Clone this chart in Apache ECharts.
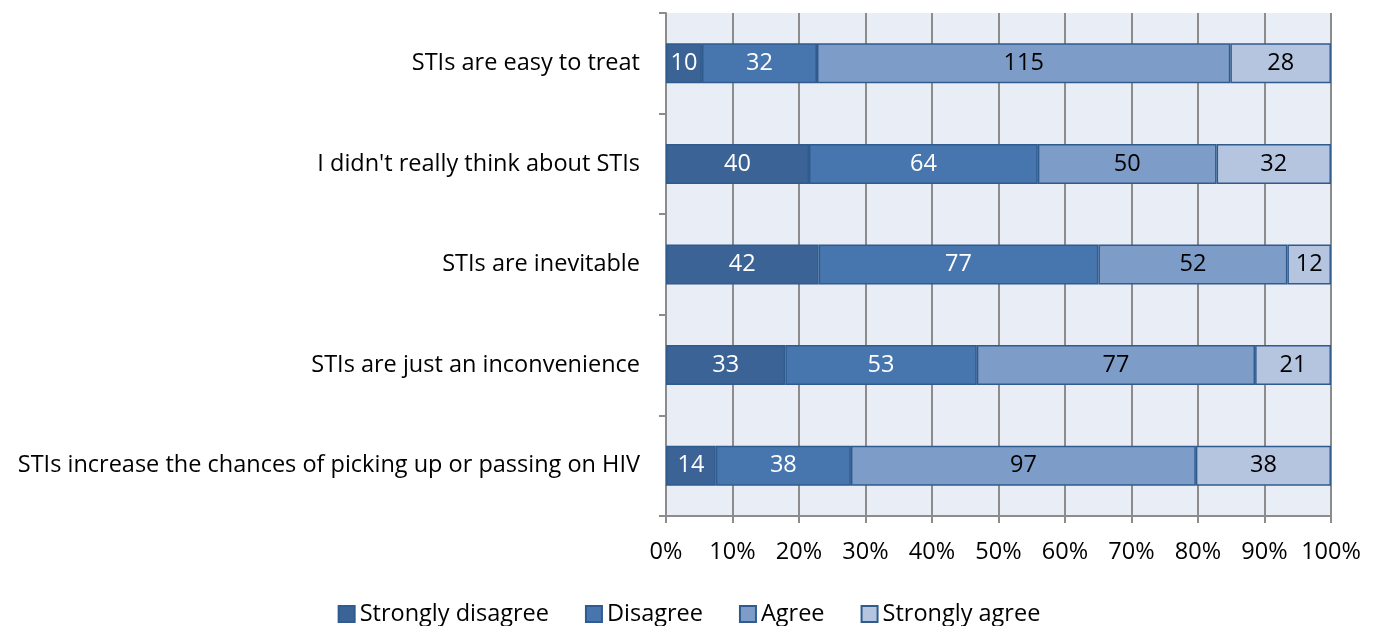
<!DOCTYPE html>
<html>
<head>
<meta charset="utf-8">
<script src="https://cdn.jsdelivr.net/npm/echarts@6/dist/echarts.min.js"></script>
<style>
  html, body { margin: 0; padding: 0; background: #fff; }
  #chart { width: 1378px; height: 626px; }
</style>
</head>
<body>
<div id="chart"></div>
<script>
const categories = [
  'STIs are easy to treat',
  "I didn't really think about STIs",
  'STIs are inevitable',
  'STIs are just an inconvenience',
  'STIs increase the chances of picking up or passing on HIV'
]
const seriesNames = ['Strongly disagree', 'Disagree', 'Agree', 'Strongly agree']
const stronglyDisagree = [10, 40, 42, 33, 14]
const disagree = [32, 64, 77, 53, 38]
const agree = [115, 50, 52, 77, 97]
const stronglyAgree = [28, 32, 12, 21, 38]
const xTickLabels = ['0%', '10%', '20%', '30%', '40%', '50%', '60%', '70%', '80%', '90%', '100%']

const seriesColors = ['#3B6395', '#4775AE', '#7E9CC8', '#B5C5DF']
const labelColors = ['#fff', '#fff', '#000', '#000']
const fontFamily = '"Open Sans", "Noto Sans", sans-serif'
const fontSize = 23.5

const allSeries = [stronglyDisagree, disagree, agree, stronglyAgree]
const totals = categories.map((c, i) =>
  allSeries.reduce((sum, s) => sum + s[i], 0)
)

const chart = echarts.init(document.getElementById('chart'))

const series = allSeries.map((values, k) => {
  return {
    name: seriesNames[k],
    type: 'bar',
    stack: 'total',
    barWidth: 40,
    data: values.map((v, i) => ({ value: (v / totals[i]) * 100, raw: v })),
    itemStyle: {
      color: seriesColors[k],
      borderColor: '#2F5B8E',
      borderWidth: 1.5
    },
    label: {
      show: true,
      position: 'inside',
      fontSize: fontSize,
      fontFamily: fontFamily,
      color: labelColors[k],
      formatter: (p) => p.data.raw
    }
  }
})

chart.setOption({
  animation: false,
  textStyle: { fontFamily: fontFamily },
  legend: {
    data: seriesNames,
    top: 597,
    left: 'center',
    icon: 'rect',
    itemWidth: 16,
    itemHeight: 16,
    itemGap: 36,
    textStyle: { fontSize: fontSize, color: '#000', fontFamily: fontFamily }
  },
  grid: {
    left: 666,
    right: 47,
    top: 13,
    bottom: 110,
    show: true,
    backgroundColor: '#E9EDF5',
    borderWidth: 0
  },
  xAxis: {
    type: 'value',
    min: 0,
    max: 100,
    interval: 10,
    axisLine: { show: true, lineStyle: { color: '#8C8C8C', width: 2 } },
    axisTick: { show: true, length: 7, lineStyle: { color: '#8C8C8C', width: 2 } },
    axisLabel: {
      fontSize: fontSize,
      color: '#000',
      margin: 24,
      formatter: (v) => xTickLabels[Math.round(v / 10)]
    },
    splitLine: { show: true, lineStyle: { color: '#8C8C8C', width: 2 } }
  },
  yAxis: {
    type: 'category',
    inverse: true,
    data: categories,
    axisLine: { show: true, lineStyle: { color: '#8C8C8C', width: 2 } },
    axisTick: { show: true, length: 7, lineStyle: { color: '#8C8C8C', width: 2 } },
    axisLabel: { fontSize: fontSize, color: '#000', margin: 26 },
    splitLine: { show: false }
  },
  series: series
})
</script>
</body>
</html>
